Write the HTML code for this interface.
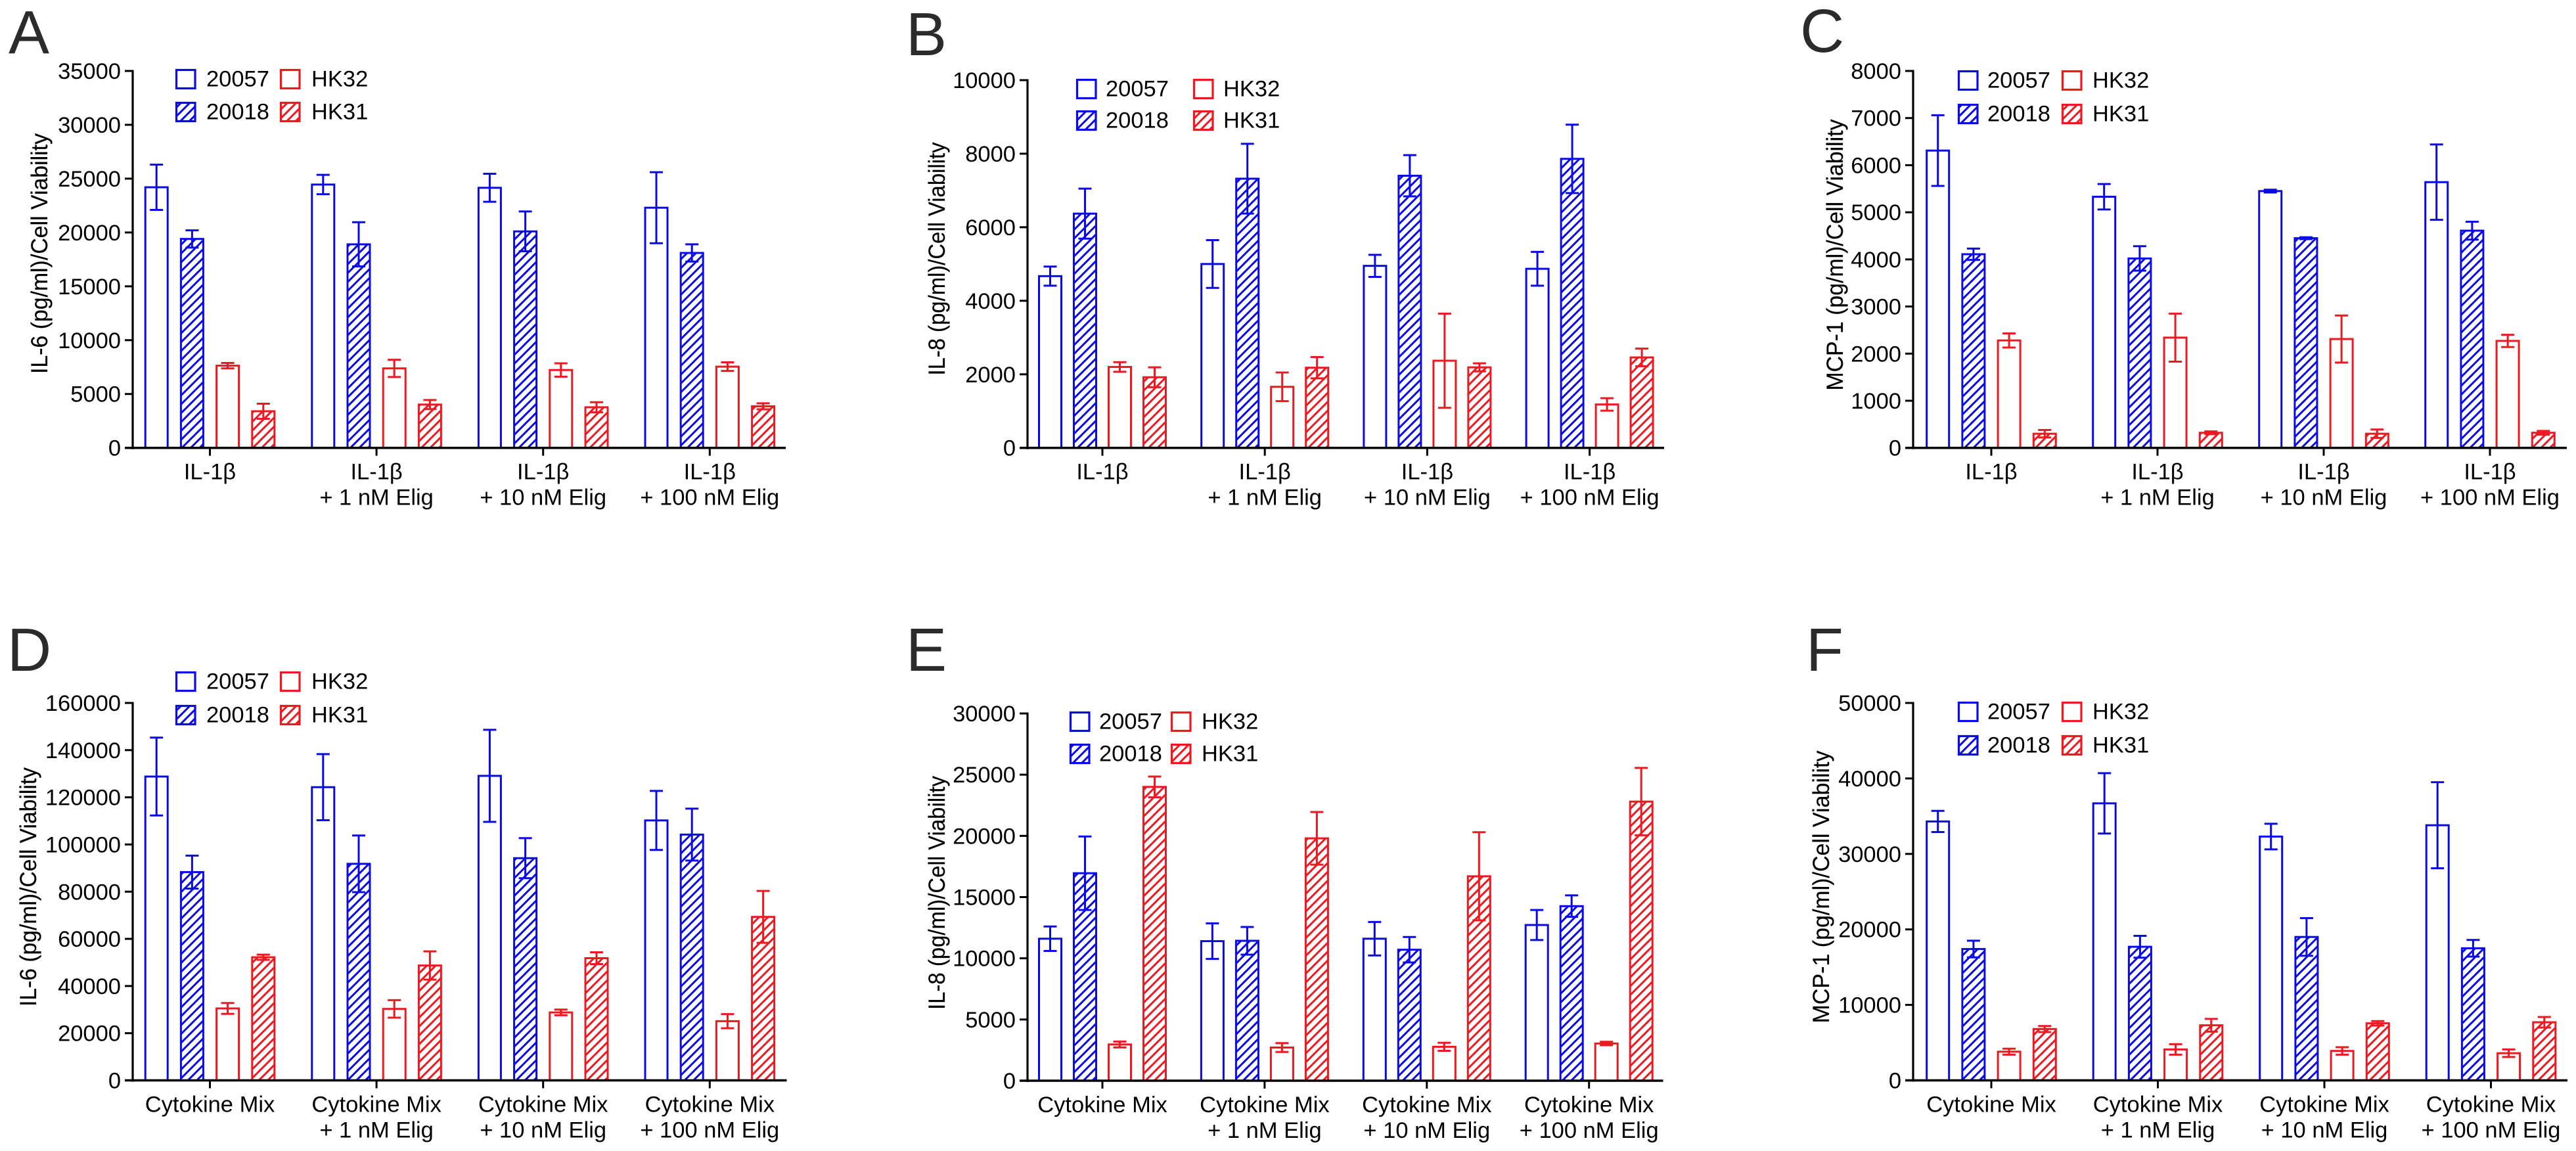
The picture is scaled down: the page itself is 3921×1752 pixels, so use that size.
<!DOCTYPE html>
<html lang="en">
<head>
<meta charset="utf-8">
<title>Cytokine secretion bar charts</title>
<style>
html,body{margin:0;padding:0;background:#fff;}
svg{display:block;}
text{font-family:"Liberation Sans",Arial,sans-serif;fill:#000;}
</style>
</head>
<body>
<svg id="figure" xmlns="http://www.w3.org/2000/svg" width="3921" height="1752" viewBox="0 0 3921 1752">
<defs>
<pattern id="hatch-blue" patternUnits="userSpaceOnUse" width="13.5" height="13.5"><path d="M-1,1 L1,-1 M0,13.5 L13.5,0 M12.5,14.5 L14.5,12.5" stroke="#0a0ae6" stroke-width="3" fill="none"/></pattern>
<pattern id="hatch-red" patternUnits="userSpaceOnUse" width="13.5" height="13.5"><path d="M-1,1 L1,-1 M0,13.5 L13.5,0 M12.5,14.5 L14.5,12.5" stroke="#ee1820" stroke-width="3" fill="none"/></pattern>
</defs>
<rect x="0" y="0" width="3921" height="1752" fill="#fff"/>
</svg>
<script>
// Category labels
const il1bLabels = [['IL-1β'], ['IL-1β', '+ 1 nM Elig'], ['IL-1β', '+ 10 nM Elig'], ['IL-1β', '+ 100 nM Elig']];
const mixLabels = [['Cytokine Mix'], ['Cytokine Mix', '+ 1 nM Elig'], ['Cytokine Mix', '+ 10 nM Elig'], ['Cytokine Mix', '+ 100 nM Elig']];
const seriesNames = ['20057', '20018', 'HK32', 'HK31'];

// Tick labels
const ticksA = [0, 5000, 10000, 15000, 20000, 25000, 30000, 35000];
const ticksB = [0, 2000, 4000, 6000, 8000, 10000];
const ticksC = [0, 1000, 2000, 3000, 4000, 5000, 6000, 7000, 8000];
const ticksD = [0, 20000, 40000, 60000, 80000, 100000, 120000, 140000, 160000];
const ticksE = [0, 5000, 10000, 15000, 20000, 25000, 30000];
const ticksF = [0, 10000, 20000, 30000, 40000, 50000];

// Panel A, IL-6 with IL-1β
const a20057 = [24200, 24450, 24150, 22300];
const a20057Err = [2100, 900, 1300, 3300];
const a20018 = [19400, 18900, 20100, 18100];
const a20018Err = [800, 2050, 1850, 800];
const aHK32 = [7630, 7380, 7230, 7540];
const aHK32Err = [250, 800, 620, 400];
const aHK31 = [3400, 4020, 3770, 3860];
const aHK31Err = [700, 420, 470, 280];

// Panel B, IL-8 with IL-1β
const b20057 = [4670, 5000, 4950, 4870];
const b20057Err = [260, 650, 300, 460];
const b20018 = [6370, 7320, 7400, 7860];
const b20018Err = [680, 950, 560, 930];
const bHK32 = [2200, 1660, 2370, 1180];
const bHK32Err = [130, 390, 1280, 170];
const bHK31 = [1920, 2180, 2190, 2460];
const bHK31Err = [270, 290, 110, 240];

// Panel C, MCP-1 with IL-1β
const c20057 = [6310, 5330, 5450, 5640];
const c20057Err = [750, 270, 30, 800];
const c20018 = [4110, 4020, 4450, 4610];
const c20018Err = [120, 260, 20, 190];
const cHK32 = [2280, 2340, 2310, 2270];
const cHK32Err = [150, 510, 500, 130];
const cHK31 = [300, 320, 300, 320];
const cHK31Err = [80, 30, 90, 40];

// Panel D, IL-6 with cytokine mix
const d20057 = [128800, 124300, 129100, 110200];
const d20057Err = [16500, 14000, 19500, 12500];
const d20018 = [88300, 91800, 94200, 104200];
const d20018Err = [7000, 12000, 8500, 11000];
const dHK32 = [30500, 30300, 28800, 25100];
const dHK32Err = [2300, 3700, 1200, 3000];
const dHK31 = [52200, 48700, 51800, 69300];
const dHK31Err = [1100, 6000, 2500, 11000];

// Panel E, IL-8 with cytokine mix
const e20057 = [11600, 11400, 11600, 12720];
const e20057Err = [1000, 1450, 1370, 1230];
const e20018 = [16950, 11430, 10700, 14260];
const e20018Err = [3000, 1130, 1040, 880];
const eHK32 = [2960, 2710, 2770, 3040];
const eHK32Err = [240, 360, 330, 140];
const eHK31 = [24000, 19800, 16700, 22800];
const eHK31Err = [850, 2150, 3600, 2750];

// Panel F, MCP-1 with cytokine mix
const f20057 = [34300, 36700, 32300, 33800];
const f20057Err = [1400, 4000, 1700, 5700];
const f20018 = [17400, 17700, 19000, 17500];
const f20018Err = [1100, 1450, 2500, 1100];
const fHK32 = [3800, 4100, 3900, 3600];
const fHK32Err = [400, 700, 500, 500];
const fHK31 = [6800, 7300, 7560, 7700];
const fHK31Err = [400, 850, 300, 700];

const BLUE = '#0a0ae6';
const RED = '#ee1820';
const FONT = 34.5;
const svg = document.getElementById('figure');
const NS = 'http://www.w3.org/2000/svg';

function make(parent, tag, attrs, content) {
  const el = document.createElementNS(NS, tag);
  for (const k in attrs) el.setAttribute(k, attrs[k]);
  if (content !== undefined) el.textContent = content;
  parent.appendChild(el);
  return el;
}

function drawPanel(p) {
  const g = make(svg, 'g', {});
  
  

  const yMax = p.ticks[p.ticks.length - 1];
  const yScale = v => p.base - (v / yMax) * (p.base - p.top);
  const xGroup = i => p.first + p.step * i;
  const xBar = (i, s) => xGroup(i) + (s - 1.5) * p.barStep;

  const letter = make(g, 'text', {x: p.letterX, y: p.letterY, 'font-size': 93, style: 'fill:#2b2b2b'}, p.letter);
  
  

  // bars and error bars
  const barW = 34;
  p.series.forEach((ser, s) => {
    const color = s < 2 ? BLUE : RED;
    const hatched = s === 1 || s === 3;
    ser.values.forEach((v, i) => {
      const cx = xBar(i, s);
      const yTop = yScale(v);
      const bar = make(g, 'rect', {
        x: cx - barW / 2, y: yTop, width: barW, height: p.base - yTop,
        fill: hatched ? (s === 1 ? 'url(#hatch-blue)' : 'url(#hatch-red)') : '#fff',
        stroke: color, 'stroke-width': 3
      });
      
      

      const yHi = yScale(v + ser.errs[i]);
      const yLo = yScale(v - ser.errs[i]);
      const d = 'M' + cx + ',' + yHi + ' L' + cx + ',' + yLo +
        ' M' + (cx - 10) + ',' + yHi + ' L' + (cx + 10) + ',' + yHi +
        ' M' + (cx - 10) + ',' + yLo + ' L' + (cx + 10) + ',' + yLo;
      const err = make(g, 'path', {d: d, stroke: color, 'stroke-width': 3, fill: 'none'});
      
      
    });
  });

  // y axis
  const yAxis = make(g, 'line', {x1: p.axisX, x2: p.axisX, y1: p.top - 1.5, y2: p.base + 2, stroke: '#000', 'stroke-width': 3.2});
  
  
  p.ticks.forEach(t => {
    const y = yScale(t);
    const tick = make(g, 'line', {x1: p.axisX - 12, x2: p.axisX, y1: y, y2: y, stroke: '#000', 'stroke-width': 3});
    
    
    const lab = make(g, 'text', {x: p.axisX - 18, y: y + 12, 'font-size': FONT, 'text-anchor': 'end'}, String(t));
    
    
  });

  // x axis
  const xAxis = make(g, 'line', {x1: p.axisX - 12, x2: p.xEnd, y1: p.base, y2: p.base, stroke: '#000', 'stroke-width': 3.5});
  
  
  p.labels.forEach((lines, i) => {
    const x = xGroup(i);
    const tick = make(g, 'line', {x1: x, x2: x, y1: p.base, y2: p.base + 12, stroke: '#000', 'stroke-width': 3});
    
    
    lines.forEach((line, k) => {
      const lab = make(g, 'text', {x: x, y: p.base + 48 + k * 39, 'font-size': FONT, 'text-anchor': 'middle'}, line);
      
      
    });
  });

  // y axis title
  const title = make(g, 'text', {
    x: p.titleX, y: p.titleY, 'font-size': 35.5, 'text-anchor': 'middle',
    textLength: p.titleLen, lengthAdjust: 'spacingAndGlyphs',
    transform: 'rotate(-90 ' + p.titleX + ' ' + p.titleY + ')',
    style: 'stroke:#000;stroke-width:0.2'
  }, p.title);
  
  

  // legend
  const legendCells = [
    {s: 0, bx: p.legX1, tx: p.legT1, by: p.legY1},
    {s: 1, bx: p.legX1, tx: p.legT1, by: p.legY2},
    {s: 2, bx: p.legX2, tx: p.legT2, by: p.legY1},
    {s: 3, bx: p.legX2, tx: p.legT2, by: p.legY2}
  ];
  legendCells.forEach(c => {
    const color = c.s < 2 ? BLUE : RED;
    const hatched = c.s === 1 || c.s === 3;
    const box = make(g, 'rect', {
      x: c.bx + 1.5, y: c.by + 1.5, width: 28.5, height: 28,
      fill: hatched ? (c.s === 1 ? 'url(#hatch-blue)' : 'url(#hatch-red)') : '#fff',
      stroke: color, 'stroke-width': 3.2
    });
    
    
    const txt = make(g, 'text', {x: c.tx, y: c.by + 26.5, 'font-size': FONT}, seriesNames[c.s]);
    
    
  });
}

function series(v1, e1, v2, e2, v3, e3, v4, e4) {
  return [{values: v1, errs: e1}, {values: v2, errs: e2}, {values: v3, errs: e3}, {values: v4, errs: e4}];
}

drawPanel({letter: 'A', letterX: 13, letterY: 81, title: 'IL-6 (pg/ml)/Cell Viability', titleX: 72, titleY: 386, titleLen: 366,
  ticks: ticksA, labels: il1bLabels, axisX: 202, top: 108, base: 681.7, xEnd: 1196, first: 319.5, step: 253.6, barStep: 54.2,
  legX1: 267, legT1: 314, legX2: 426, legT2: 474, legY1: 105, legY2: 155,
  series: series(a20057, a20057Err, a20018, a20018Err, aHK32, aHK32Err, aHK31, aHK31Err)});

drawPanel({letter: 'B', letterX: 1379, letterY: 84, title: 'IL-8 (pg/ml)/Cell Viability', titleX: 1438, titleY: 394, titleLen: 355,
  ticks: ticksB, labels: il1bLabels, axisX: 1564, top: 122, base: 681.7, xEnd: 2533, first: 1678, step: 247.2, barStep: 53,
  legX1: 1638, legT1: 1683, legX2: 1816, legT2: 1862, legY1: 120, legY2: 168,
  series: series(b20057, b20057Err, b20018, b20018Err, bHK32, bHK32Err, bHK31, bHK31Err)});

drawPanel({letter: 'C', letterX: 2740, letterY: 79, title: 'MCP-1 (pg/ml)/Cell Viability', titleX: 2805, titleY: 388, titleLen: 413,
  ticks: ticksC, labels: il1bLabels, axisX: 2912, top: 108, base: 681.7, xEnd: 3907, first: 3031, step: 253, barStep: 54.2,
  legX1: 2980, legT1: 3025, legX2: 3138, legT2: 3185, legY1: 107, legY2: 158,
  series: series(c20057, c20057Err, c20018, c20018Err, cHK32, cHK32Err, cHK31, cHK31Err)});

drawPanel({letter: 'D', letterX: 11, letterY: 1021, title: 'IL-6 (pg/ml)/Cell Viability', titleX: 55, titleY: 1350, titleLen: 364,
  ticks: ticksD, labels: mixLabels, axisX: 202, top: 1070, base: 1644.5, xEnd: 1197.5, first: 319.5, step: 253.6, barStep: 54.2,
  legX1: 267, legT1: 314, legX2: 426, legT2: 474, legY1: 1022, legY2: 1073,
  series: series(d20057, d20057Err, d20018, d20018Err, dHK32, dHK32Err, dHK31, dHK31Err)});

drawPanel({letter: 'E', letterX: 1379, letterY: 1021, title: 'IL-8 (pg/ml)/Cell Viability', titleX: 1438, titleY: 1359, titleLen: 356,
  ticks: ticksE, labels: mixLabels, axisX: 1564, top: 1086, base: 1645, xEnd: 2531.5, first: 1678, step: 246.9, barStep: 53,
  legX1: 1628, legT1: 1673, legX2: 1782, legT2: 1829, legY1: 1083, legY2: 1132,
  series: series(e20057, e20057Err, e20018, e20018Err, eHK32, eHK32Err, eHK31, eHK31Err)});

drawPanel({letter: 'F', letterX: 2749, letterY: 1021, title: 'MCP-1 (pg/ml)/Cell Viability', titleX: 2784, titleY: 1350, titleLen: 415,
  ticks: ticksF, labels: mixLabels, axisX: 2912, top: 1070, base: 1644.5, xEnd: 3908, first: 3031, step: 253.5, barStep: 54.2,
  legX1: 2980, legT1: 3025, legX2: 3138, legT2: 3185, legY1: 1068, legY2: 1119,
  series: series(f20057, f20057Err, f20018, f20018Err, fHK32, fHK32Err, fHK31, fHK31Err)});
</script>
</body>
</html>
